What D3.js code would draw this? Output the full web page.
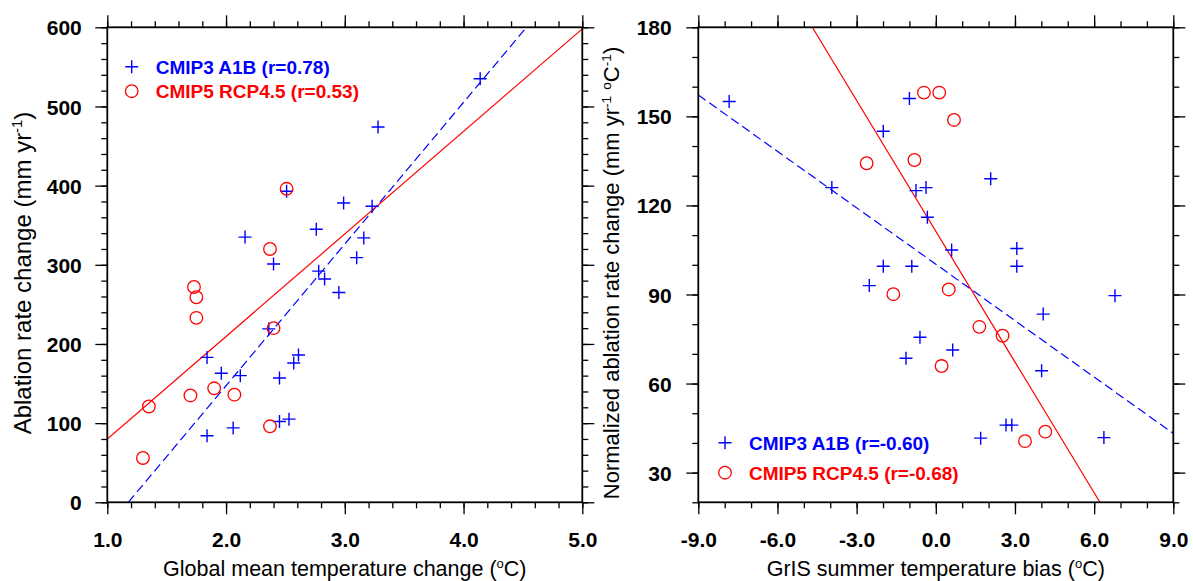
<!DOCTYPE html>
<html>
<head>
<meta charset="utf-8">
<script src="https://cdn.jsdelivr.net/npm/d3@7"></script>
<style>
  html, body { margin: 0; padding: 0; background: #fff; }
  svg { display: block; }
  text { font-family: "Liberation Sans", Arial, Helvetica, sans-serif; }
</style>
</head>
<body>
<svg id="chart" width="1193" height="581"></svg>
<script>
// ---------------- DATA ----------------
// Left panel: global mean temperature change (°C) vs ablation rate change (mm/yr)
const leftCmip3X = [4.14, 3.28, 2.51, 2.99, 3.23, 2.76, 2.16, 3.16, 3.10, 2.40, 2.78, 2.83, 2.95, 2.36, 1.84, 1.96, 2.12, 2.61, 2.57, 2.45, 2.53, 2.45, 2.06, 1.84];
const leftCmip3Y = [535, 474, 393, 378, 374, 345, 335, 334, 309, 301, 292, 282, 265, 219, 183, 163, 160, 186, 176, 157, 105, 102, 94, 84];
const leftCmip5X = [2.51, 2.37, 1.73, 1.75, 1.75, 2.40, 1.35, 1.30, 1.70, 1.90, 2.07, 2.37];
const leftCmip5Y = [396, 320, 272, 259, 233, 220, 121, 56, 135, 144, 136, 96];
// regression lines (endpoints)
const leftCmip3Fit = [[1.177, 0], [4.53, 600]];
const leftCmip5Fit = [[1.0, 80], [5.0, 598]];

// Right panel: GrIS summer temperature bias (°C) vs normalized ablation rate change
const rightCmip3X = [-7.83, -1.00, -1.99, -3.94, 2.08, -0.75, -0.37, -0.32, 0.60, 3.07, -1.99, -0.91, 3.07, -2.52, 6.79, 4.07, -0.60, 0.64, -1.13, 4.01, 2.66, 2.88, 1.70, 6.37];
const rightCmip3Y = [155, 156, 145, 126, 129, 125, 126, 116, 105, 105.5, 99.5, 99.5, 99.5, 93, 89.6, 83.4, 75.6, 71.3, 68.5, 64.3, 46, 46, 41.6, 41.8];
const rightCmip5X = [-0.45, 0.13, 0.69, -2.62, -0.81, -1.61, 0.49, 1.65, 2.53, 0.22, 4.15, 3.38];
const rightCmip5Y = [158, 158, 148.8, 134.2, 135.3, 90.1, 91.7, 79.1, 76.1, 65.9, 43.8, 40.6];
const rightCmip3Fit = [[-9, 157.2], [9, 43.2]];
const rightCmip5Fit = [[-4.68, 180], [6.22, 20]];

// axis ticks
const leftXTicks = [1, 2, 3, 4, 5];
const leftYTicks = [0, 100, 200, 300, 400, 500, 600];
const rightXTicks = [-9, -6, -3, 0, 3, 6, 9];
const rightYTicks = [30, 60, 90, 120, 150, 180];

// legend labels
const leftLegend = ["CMIP3 A1B (r=0.78)", "CMIP5 RCP4.5 (r=0.53)"];
const rightLegend = ["CMIP3 A1B (r=-0.60)", "CMIP5 RCP4.5 (r=-0.68)"];

// ---------------- DRAWING ----------------
const svg = d3.select("#chart");
const BLUE = "#0000ff", RED = "#ff0000";
const plotTop = 27.3, plotBottom = 502.3;

function panel(cfg) {
  const x = d3.scaleLinear().domain(cfg.xDomain).range([cfg.x0, cfg.x1]);
  const y = d3.scaleLinear().domain(cfg.yDomain).range([plotBottom, plotTop]);
  const g = svg.append("g");

  const clipId = "clip" + cfg.id;
  svg.append("clipPath").attr("id", clipId)
    .append("rect").attr("x", cfg.x0).attr("y", plotTop)
    .attr("width", cfg.x1 - cfg.x0).attr("height", plotBottom - plotTop);

  const styleAxis = sel => {
    sel.select(".domain").remove();
    sel.selectAll(".tick line").attr("stroke", "#000").attr("stroke-width", 1.3);
  };
  // minor ticks
  g.append("g").attr("transform", `translate(0,${plotBottom})`)
    .call(d3.axisBottom(x).tickValues(cfg.xMinor).tickSize(6).tickFormat("")).call(styleAxis);
  g.append("g").attr("transform", `translate(0,${plotTop})`)
    .call(d3.axisTop(x).tickValues(cfg.xMinor).tickSize(6).tickFormat("")).call(styleAxis);
  g.append("g").attr("transform", `translate(${cfg.x0},0)`)
    .call(d3.axisLeft(y).tickValues(cfg.yMinor).tickSize(6).tickFormat("")).call(styleAxis);
  g.append("g").attr("transform", `translate(${cfg.x1},0)`)
    .call(d3.axisRight(y).tickValues(cfg.yMinor).tickSize(6).tickFormat("")).call(styleAxis);

  // major ticks
  const bx = g.append("g").attr("transform", `translate(0,${plotBottom})`)
    .call(d3.axisBottom(x).tickValues(cfg.xTicks).tickSize(12).tickFormat(d => d.toFixed(1))).call(styleAxis);
  bx.selectAll("text").attr("y", 44.4).attr("dy", null)
    .attr("font-size", 21).attr("font-weight", "bold").attr("fill", "#000");
  g.append("g").attr("transform", `translate(0,${plotTop})`)
    .call(d3.axisTop(x).tickValues(cfg.xTicks).tickSize(12).tickFormat("")).call(styleAxis);
  const ly = g.append("g").attr("transform", `translate(${cfg.x0},0)`)
    .call(d3.axisLeft(y).tickValues(cfg.yTicks).tickSize(12).tickFormat(d => String(d))).call(styleAxis);
  ly.selectAll("text").attr("x", -cfg.yLabelOffset).attr("dy", "0.36em")
    .attr("font-size", 21).attr("font-weight", "bold").attr("fill", "#000");
  g.append("g").attr("transform", `translate(${cfg.x1},0)`)
    .call(d3.axisRight(y).tickValues(cfg.yTicks).tickSize(12).tickFormat("")).call(styleAxis);

  // fit lines
  const line = d3.line().x(d => x(d[0])).y(d => y(d[1]));
  const lines = g.append("g").attr("clip-path", `url(#${clipId})`);
  lines.append("path").datum(cfg.fit3).attr("d", line)
    .attr("fill", "none").attr("stroke", BLUE).attr("stroke-width", 1.2)
    .attr("stroke-dasharray", "9,4.5");
  lines.append("path").datum(cfg.fit5).attr("d", line)
    .attr("fill", "none").attr("stroke", RED).attr("stroke-width", 1.2);

  // points
  const pts3 = cfg.x3.map((v, i) => [v, cfg.y3[i]]);
  const pts5 = cfg.x5.map((v, i) => [v, cfg.y5[i]]);
  g.append("g").selectAll("path").data(pts3).join("path")
    .attr("d", "M-6.5,0H6.5M0,-6.5V6.5")
    .attr("transform", d => `translate(${x(d[0])},${y(d[1])})`)
    .attr("stroke", BLUE).attr("stroke-width", 1.4).attr("fill", "none");
  g.append("g").selectAll("circle").data(pts5).join("circle")
    .attr("cx", d => x(d[0])).attr("cy", d => y(d[1])).attr("r", 6.3)
    .attr("stroke", RED).attr("stroke-width", 1.3).attr("fill", "none");

  // frame
  g.append("rect").attr("x", cfg.x0).attr("y", plotTop)
    .attr("width", cfg.x1 - cfg.x0).attr("height", plotBottom - plotTop)
    .attr("fill", "none").attr("stroke", "#000").attr("stroke-width", 1.8);

  // legend
  const lg = g.append("g");
  lg.append("path").attr("d", "M-6.5,0H6.5M0,-6.5V6.5")
    .attr("transform", `translate(${cfg.legX},${cfg.legY})`)
    .attr("stroke", BLUE).attr("stroke-width", 1.4);
  lg.append("circle").attr("cx", cfg.legX).attr("cy", cfg.legY + cfg.legGap).attr("r", 6.3)
    .attr("stroke", RED).attr("stroke-width", 1.3).attr("fill", "none");
  lg.append("text").attr("x", cfg.legX + 24).attr("y", cfg.legY).attr("dy", "0.36em")
    .attr("font-size", 19).attr("font-weight", "bold").attr("fill", BLUE).text(cfg.legend[0]);
  lg.append("text").attr("x", cfg.legX + 24).attr("y", cfg.legY + cfg.legGap).attr("dy", "0.36em")
    .attr("font-size", 19).attr("font-weight", "bold").attr("fill", RED).text(cfg.legend[1]);

  // x title
  const xt = g.append("text").attr("x", (cfg.x0 + cfg.x1) / 2).attr("y", 576)
    .attr("text-anchor", "middle").attr("font-size", 21.5).attr("fill", "#000");
  xt.append("tspan").text(cfg.xTitle + " (");
  xt.append("tspan").attr("font-size", 13).attr("dy", -8).text("o");
  xt.append("tspan").attr("dy", 8).text("C)");

  // y title
  const yt = g.append("text")
    .attr("transform", `translate(${cfg.yTitleX},${cfg.yTitleY}) rotate(-90)`)
    .attr("text-anchor", "middle").attr("font-size", cfg.yTitleSize).attr("fill", "#000");
  cfg.yTitleParts.forEach(p => {
    const t = yt.append("tspan").text(p.t);
    if (p.sup) t.attr("font-size", cfg.yTitleSize * 0.62).attr("dy", p.dy);
    else if (p.dy) t.attr("dy", p.dy);
  });
}

panel({
  id: "L", xDomain: [1, 5], yDomain: [0, 600], x0: 107.3, x1: 582.3,
  xTicks: leftXTicks, yTicks: leftYTicks,
  xMinor: d3.range(1, 5.001, 0.2), yMinor: d3.range(0, 601, 20),
  yLabelOffset: 25.5,
  fit3: leftCmip3Fit, fit5: leftCmip5Fit,
  x3: leftCmip3X, y3: leftCmip3Y, x5: leftCmip5X, y5: leftCmip5Y,
  legX: 131.7, legY: 66.7, legGap: 24.5, legend: leftLegend,
  xTitle: "Global mean temperature change",
  yTitleX: 31, yTitleY: 273, yTitleSize: 24,
  yTitleParts: [{t: "Ablation rate change (mm yr"}, {t: "-1", sup: true, dy: -9}, {t: ")", dy: 9}]
});

panel({
  id: "R", xDomain: [-9, 9], yDomain: [20, 180], x0: 698.3, x1: 1173.3,
  xTicks: rightXTicks, yTicks: rightYTicks,
  xMinor: d3.range(-9, 9.001, 1), yMinor: d3.range(20, 181, 10),
  yLabelOffset: 26.6,
  fit3: rightCmip3Fit, fit5: rightCmip5Fit,
  x3: rightCmip3X, y3: rightCmip3Y, x5: rightCmip5X, y5: rightCmip5Y,
  legX: 725, legY: 442.7, legGap: 30, legend: rightLegend,
  xTitle: "GrIS summer temperature bias",
  yTitleX: 619, yTitleY: 273, yTitleSize: 22,
  yTitleParts: [{t: "Normalized ablation rate change (mm yr"}, {t: "-1", sup: true, dy: -8},
                {t: " ", dy: 8}, {t: "o", sup: true, dy: -8}, {t: "C", dy: 8},
                {t: "-1", sup: true, dy: -8}, {t: ")", dy: 8}]
});
</script>
</body>
</html>
